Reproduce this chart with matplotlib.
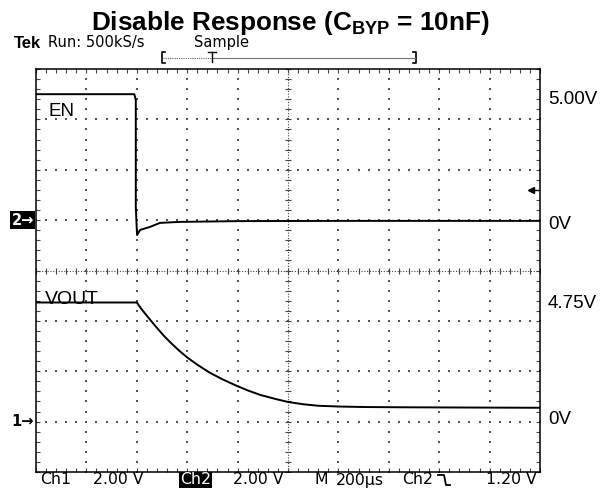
import numpy as np
import matplotlib
matplotlib.use("Agg")
import matplotlib.pyplot as plt
from matplotlib.transforms import blended_transform_factory
from matplotlib.lines import Line2D

# scope settings
volts_per_div = 2.0
time_per_div = 200  # us
en_offset = 1       # divisions above centre
vout_offset = -3    # divisions below centre
trig_level = 1.20

# EN trace (Ch2), time in us, volts
en_t = [0, 390, 396, 396, 401, 413, 452, 492, 571, 800, 1200, 1600, 2000]
en_v = [5.0, 5.0, 4.77, 0.52, -0.59, -0.39, -0.27, -0.11, -0.07, -0.04, -0.03, -0.03, -0.03]

# VOUT trace (Ch1)
vout_t = [0, 400, 420, 450, 480, 510, 540, 570, 600, 640, 690, 740, 790, 840, 890,
          950, 1000, 1060, 1120, 1200, 1300, 1450, 1700, 2000]
vout_v = [4.73, 4.73, 4.45, 4.08, 3.72, 3.38, 3.08, 2.80, 2.55, 2.26, 1.94, 1.68, 1.45, 1.24, 1.06,
          0.90, 0.78, 0.69, 0.63, 0.60, 0.58, 0.57, 0.56, 0.55]

right_labels = ["5.00V", "0V", "4.75V", "0V"]
right_label_y = [100, 224, 303, 420]  # pixel rows

W, H = 612, 488
plt.rcParams['mathtext.fontset'] = 'custom'
plt.rcParams['mathtext.rm'] = 'Liberation Sans'
plt.rcParams['mathtext.bf'] = 'Liberation Sans:bold'

fig = plt.figure(figsize=(W / 100, H / 100), dpi=100)
ax = fig.add_axes([36 / W, 16 / H, 504 / W, 403 / H])

def fx(x):
    return x / W

def fy(y):
    return 1 - y / H

tek = 'DejaVu Sans'

# convert channel volts to screen divisions
en_y = [en_offset + v / volts_per_div for v in en_v]
vout_y = [vout_offset + v / volts_per_div for v in vout_v]
en_x = [t / time_per_div for t in en_t]
vout_x = [t / time_per_div for t in vout_t]

ax.set_xlim(0, 10)
ax.set_ylim(-4, 4)

# graticule
minor_x = np.arange(0, 10.001, 0.2)
minor_y = np.arange(-4, 4.001, 0.2)
for gx in range(1, 10):
    if gx == 5:
        continue
    ax.scatter(np.full(len(minor_y), gx), minor_y, s=1.3, marker='s', color='#555555', lw=0)
for gy in range(-3, 4):
    if gy == 0:
        continue
    ax.scatter(minor_x, np.full(len(minor_x), gy), s=1.3, marker='s', color='#555555', lw=0)
ax.axvline(5, ls=(0, (1, 1.5)), lw=0.8, color='#444444')
ax.axhline(0, ls=(0, (1, 1.5)), lw=0.8, color='#444444')
ax.plot(np.full(len(minor_y), 5), minor_y, ls='none', marker='_', ms=4.5, mew=0.8, color='#444444')
ax.plot(minor_x, np.zeros(len(minor_x)), ls='none', marker='|', ms=4.5, mew=0.8, color='#444444')

ax.set_xticks(minor_x)
ax.set_yticks(minor_y)
ax.tick_params(direction='in', length=3, width=0.8, color='#444444',
               top=True, right=True, labelbottom=False, labelleft=False)
for sp in ax.spines.values():
    sp.set_linewidth(1.1)

# traces
ax.plot(en_x, en_y, color='black', lw=1.4)
ax.plot(vout_x, vout_y, color='black', lw=1.4)

# trigger level marker
trig_y = en_offset + trig_level / volts_per_div
ax.plot([9.83], [trig_y], marker='<', ms=5, color='black', clip_on=False)
ax.plot([9.85, 9.97], [trig_y, trig_y], color='black', lw=1)

# ground markers
blend = blended_transform_factory(ax.transAxes, ax.transData)
ax.text(-0.004, en_offset, "2\u2192", transform=blend, ha='right', va='center',
        fontsize=10.5, fontweight='bold', color='white', family='DejaVu Sans',
        bbox=dict(boxstyle='square,pad=0.08', fc='black', ec='none'))
ax.text(-0.004, vout_offset, "1\u2192", transform=blend, ha='right', va='center',
        fontsize=10.5, fontweight='bold', color='black', family='DejaVu Sans')

# channel names
fig.text(fx(48), fy(112), "EN", fontsize=13.5, family='Liberation Sans', va='center', ha='left')
fig.text(fx(45), fy(300), "VOUT", fontsize=14, family='Liberation Sans', va='center', ha='left')

for lab, yy in zip(right_labels, right_label_y):
    fig.text(fx(548), fy(yy), lab, fontsize=13.5, family='Liberation Sans', va='center', ha='left')

# title
fig.text(fx(290), fy(30), r"Disable Response (C$_{\mathbf{BYP}}$ = 10nF)", fontsize=18.8,
         fontweight='bold', family='Liberation Sans', ha='center', va='baseline')

# top status line
fig.text(fx(14), fy(43), "Tek", fontsize=12, fontweight='bold', family='Liberation Sans', va='center')
fig.text(fx(48), fy(43), "Run: 500kS/s", fontsize=10.5, family=tek, va='center')
fig.text(fx(194), fy(43), "Sample", fontsize=10.5, family=tek, va='center')

# record bracket
fig.add_artist(Line2D([fx(165), fx(162), fx(162), fx(165)], [fy(52), fy(52), fy(63), fy(63)],
                      color='black', lw=1.2, transform=fig.transFigure))
fig.add_artist(Line2D([fx(413), fx(416), fx(416), fx(413)], [fy(52), fy(52), fy(63), fy(63)],
                      color='black', lw=1.2, transform=fig.transFigure))
fig.add_artist(Line2D([fx(163), fx(212)], [fy(58), fy(58)], color='#666666', lw=0.8,
                      ls=(0, (1, 1)), transform=fig.transFigure))
fig.add_artist(Line2D([fx(212), fx(415)], [fy(58), fy(58)], color='#777777', lw=0.8,
                      transform=fig.transFigure))
fig.add_artist(Line2D([fx(208), fx(216)], [fy(52), fy(52)], color='black', lw=1,
                      transform=fig.transFigure))
fig.add_artist(Line2D([fx(212), fx(212)], [fy(52), fy(62)], color='black', lw=1,
                      transform=fig.transFigure))

# bottom status line
sy = fy(480)
fs = 11.3
fig.text(fx(40), sy, "Ch1", fontsize=fs, family=tek, va='center')
fig.text(fx(93), sy, "2.00 V", fontsize=fs, family=tek, va='center')
fig.text(fx(180), sy, "Ch2", fontsize=fs, family=tek, va='center', color='white',
         bbox=dict(boxstyle='square,pad=0.05', fc='black', ec='none'))
fig.text(fx(233), sy, "2.00 V", fontsize=fs, family=tek, va='center')
fig.text(fx(315), sy, "M", fontsize=fs, family=tek, va='center')
fig.text(fx(336), sy, "200\u00b5s", fontsize=fs, family=tek, va='center')
fig.text(fx(402), sy, "Ch2", fontsize=fs, family=tek, va='center')
fig.add_artist(Line2D([fx(438), fx(444), fx(446), fx(450)], [fy(475), fy(475), fy(485), fy(485)],
                      color='black', lw=1.3, transform=fig.transFigure))
fig.text(fx(486), sy, "1.20 V", fontsize=fs, family=tek, va='center')

fig.savefig("out.png", dpi=100)
